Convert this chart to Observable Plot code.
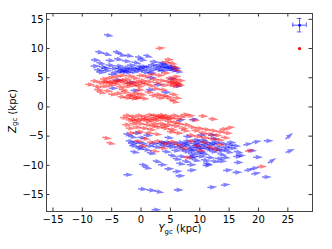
<!DOCTYPE html>
<html><head><meta charset="utf-8">
<script src="https://cdn.jsdelivr.net/npm/d3@7"></script>
<script src="https://cdn.jsdelivr.net/npm/@observablehq/plot@0.6"></script>
<style>body{margin:0;background:#fff;}</style>
</head><body><div id="chart"></div>
<script>
// each arrow: [Ygc (kpc), Zgc (kpc), direction (deg, counter-clockwise from +Y)]
const blueArrows = [
[-6.3,12.4,-10],
[-7.8,9.5,-10],[-6.5,9.2,-15],[-4.8,9.5,-10],[-4.0,9.1,-15],[-2.8,8.9,-10],[0.4,8.9,-15],[-1.0,8.6,-10],
[-8.5,8.1,-5],[-7.6,7.6,-10],[-6.0,8.0,-5],[-4.6,8.3,-10],[-3.2,7.9,-5],[-1.6,7.7,-10],[-0.6,8.1,-5],[1.5,7.8,-5],[3.0,7.6,-10],
[-8.6,7.0,0],[-8.0,6.4,-5],[-7.2,6.9,-5],[-6.6,6.2,0],[-6.0,7.2,-5],[-5.4,6.6,0],[-5.0,6.0,-5],[-4.5,7.0,0],[-4.0,6.3,-5],[-3.6,6.0,0],[-3.2,6.8,-5],[-2.8,6.3,0],[-2.4,7.2,-5],[-2.0,6.0,0],[-1.6,6.6,-5],[-1.2,6.2,0],[-0.8,7.0,-5],[-0.4,6.4,0],[0.0,6.0,-5],[0.4,6.8,0],[0.8,6.3,-5],[1.2,7.2,0],[1.6,6.6,-5],[2.0,7.0,0],[2.4,6.4,-5],[2.8,7.3,0],[3.2,6.8,-5],[3.6,7.1,0],[4.0,6.5,-5],[4.4,6.9,0],[4.8,6.3,-5],[5.2,6.6,0],[5.6,6.1,-5],[3.0,6.2,0],[-4.2,6.1,0],[-3.0,5.9,0],[1.0,5.8,0],[-6.8,6.6,0],[-7.6,6.0,-5],[-5.6,5.6,0],
[-4.4,6.6,0],[-3.4,6.4,0],[-2.2,6.6,0],[-1.0,6.6,0],[2.6,6.8,0],[3.8,6.8,0],[4.6,6.6,0],[-0.2,6.9,0],
[-4.7,4.6,0],[-1.8,2.8,0],[2.2,3.8,0],[4.5,4.8,0],[0.8,3.0,-5],[-2.5,4.2,0],[3.5,2.5,0],[5.5,3.6,0],[-5.5,3.2,0],[1.0,5.0,0],
[-3.0,-4.6,-10],[-2.2,-5.0,-10],[-1.4,-4.4,-5],[-0.6,-5.2,-5],[0.4,-4.8,-5],[6.0,-2.4,10],[8.2,-2.2,5],[4.0,-5.2,-5],[7.2,-5.0,-5],[9.6,-4.8,0],[11.4,-4.8,0],
[-2.6,-5.8,-5],[-2.0,-6.6,-5],[-1.4,-6.0,-5],[-1.0,-7.0,-10],[-0.4,-6.2,-5],[0.2,-7.2,-10],[0.8,-6.6,-5],[1.4,-6.2,-5],[2.0,-6.8,-5],[2.6,-6.2,-5],[3.2,-6.6,-5],[3.8,-6.0,-5],[4.4,-6.8,-5],[5.0,-6.2,-5],[5.6,-6.8,-5],[6.0,-6.0,-5],[6.4,-7.2,-5],[6.8,-6.4,-5],[7.2,-5.8,-5],[7.6,-6.8,-5],[8.0,-7.4,-5],[8.4,-6.2,-5],[8.8,-7.0,-5],[9.2,-6.4,-5],[9.6,-7.6,-5],[10.0,-6.8,-5],[10.4,-6.0,-5],[10.8,-7.2,-5],[11.2,-6.4,-5],[11.6,-7.6,-5],[12.0,-6.0,-5],[12.4,-6.8,-5],[12.8,-7.4,-5],[13.2,-6.2,-5],[13.8,-6.8,-5],[14.4,-6.4,-5],[14.8,-7.0,-5],[15.4,-6.6,-5],[15.8,-7.6,-10],[14.2,-7.6,-10],[13.0,-8.0,-10],[7.0,-7.6,-5],[5.2,-7.4,-5],[3.6,-7.6,-5],[9.8,-5.6,-5],[8.6,-5.6,-5],[11.8,-5.4,-5],[1.0,-7.8,-10],[-1.8,-7.6,-10],
[6.2,-6.6,-5],[7.0,-6.2,-5],[7.8,-7.2,-5],[8.6,-6.6,-5],[9.4,-7.0,-5],[10.2,-6.4,-5],[11.0,-7.0,-5],[11.6,-6.2,-5],[12.2,-7.2,-5],[9.0,-5.9,-5],[3.0,-6.0,-5],[4.2,-6.4,-5],[-2.2,-6.2,-5],[-0.8,-6.8,-5],[13.6,-7.2,-5],[14.6,-6.0,-5],[8.2,-8.4,-5],[9.0,-7.8,-5],
[4.6,-8.2,-10],[5.4,-8.8,-10],[6.2,-8.4,-5],[7.0,-9.2,-10],[7.8,-8.6,-5],[8.6,-9.0,-10],[9.4,-8.4,-5],[10.2,-9.0,-10],[11.0,-8.6,-5],[11.8,-9.2,-10],[12.6,-8.8,-5],[6.0,-9.6,-10],[10.6,-9.6,-10],[13.6,-8.6,-5],[16.2,-8.2,-5],[8.0,-8.0,-5],[10.0,-8.0,-5],
[-3.0,-11.6,0],[-0.5,-14.0,-5],[1.0,-14.2,-5],[2.3,-14.4,-10],[1.8,-17.6,0],[5.6,-14.2,0],[11.3,-13.8,5],[13.6,-13.4,5],
[-0.3,-9.8,-10],[0.3,-10.3,-10],[2.9,-9.9,0],[5.9,-11.8,0],[5.4,-11.1,5],[7.9,-10.9,5],[7.8,-9.9,0],[10.5,-10.0,0],[13.0,-9.3,0],[14.0,-10.9,5],[15.6,-11.2,0],[17.6,-10.9,10],[18.6,-10.6,10],[18.8,-11.5,10],[20.6,-12.0,0],[21.6,-9.6,30],[19.1,-8.6,0],[20.9,-5.8,0],[18.9,-6.1,10],[18.1,-7.5,0],[24.6,-5.5,40],[24.6,-7.8,20],[15.7,-8.5,0],[15.8,-9.5,0],[17.4,-6.5,10],[2.0,-9.2,-10],[4.0,-10.6,0]
];
const redArrows = [
[2.5,10.0,5],[4.0,8.2,-5],[4.6,7.6,-10],[5.0,7.0,-10],[5.3,6.4,-5],[3.6,7.8,-10],
[-9.5,3.9,-5],[-8.6,4.5,-5],[-8.2,3.6,-10],[-7.6,4.2,-5],[-7.0,4.8,0],[-7.0,3.6,-5],[-6.5,4.3,-5],[-6.0,5.0,0],[-6.0,3.8,-5],[-5.5,4.5,-5],[-5.0,5.2,0],[-5.0,4.0,-5],[-4.5,4.6,-5],[-4.2,3.5,-5],[-4.0,5.4,0],[-3.6,4.2,-5],[-3.2,4.8,-5],[-3.0,3.6,-5],[-2.6,5.3,0],[-2.4,4.3,-5],[-2.0,3.8,-5],[-1.8,5.0,-5],[-1.4,4.4,-5],[-1.0,3.6,-5],[-0.8,5.4,0],[-0.5,4.6,-5],[0.0,4.0,-5],[0.2,5.2,0],[0.6,4.4,-5],[1.0,3.7,-5],[1.2,5.6,0],[1.5,4.8,-5],[2.0,4.2,-5],[2.4,5.4,0],[2.8,4.6,-5],[3.2,3.8,-5],[3.4,5.8,0],[3.8,4.4,-5],[4.2,5.0,-5],[4.4,3.9,-5],[4.8,4.4,-5],[5.0,3.6,-5],[5.4,4.2,-5],[5.8,3.8,-5],[6.0,4.6,-5],[5.2,5.2,0],[-8.0,3.0,-5],[-6.4,2.8,-5],
[-6.8,4.4,-5],[-5.8,4.2,-5],[-4.8,4.4,-5],[-3.8,4.6,-5],[-2.8,4.0,-5],[-1.6,4.0,-5],[-0.6,4.2,-5],[4.6,4.2,-5],[5.6,4.0,-5],[5.0,4.8,-5],[-2.6,2.0,-5],[-1.4,1.6,-5],
[-7.5,2.6,-10],[-5.6,2.2,-5],[-4.6,2.4,-5],[-4.0,1.8,-5],[-3.4,2.6,-5],[-3.0,1.6,-5],[-2.4,2.1,-5],[-2.0,1.5,-5],[-1.6,2.4,-5],[-1.2,1.8,-5],[-0.6,2.2,-5],[-0.2,1.5,-5],[-3.8,3.0,-5],[-1.0,3.0,-5],[0.6,2.6,-5],[1.4,2.0,-5],[2.2,2.2,-5],[2.6,1.6,-5],[3.2,2.0,-5],[3.8,1.8,-5],[4.4,1.4,-10],[5.0,1.0,-10],[4.8,2.2,-5],[5.4,1.6,-5],[1.8,3.2,-5],[3.0,3.0,-5],
[-3.6,-1.8,-5],[-3.0,-1.4,-5],[-2.6,-2.2,-5],[-2.0,-1.6,-5],[-1.6,-2.4,-5],[-1.0,-1.4,-5],[-0.6,-2.0,-5],[0.0,-1.6,-5],[0.4,-2.4,-5],[0.8,-1.3,-5],[1.2,-1.9,-5],[1.6,-1.4,-5],[2.0,-2.2,-5],[2.4,-1.6,-5],[2.8,-1.3,-5],[3.2,-2.0,-5],[3.6,-1.5,-5],[4.0,-2.4,-5],[4.4,-1.8,-5],[5.0,-1.4,-5],[5.6,-2.0,-5],[6.2,-1.6,-5],[6.8,-1.3,0],[7.6,-1.5,0],[9.8,-1.5,-5],[11.5,-2.0,-5],[8.4,-2.2,-5],
[0.0,-2.0,-5],[1.0,-2.2,-5],[2.0,-1.8,-5],[3.0,-1.7,-5],[4.0,-1.9,-5],[-1.2,-2.2,-5],[-2.2,-2.0,-5],[1.4,-3.2,-5],[3.2,-3.2,-5],[5.0,-2.6,-5],
[-3.2,-3.0,-5],[-2.6,-3.6,-5],[-2.0,-2.8,-5],[-1.4,-3.4,-5],[-0.8,-2.8,-5],[-0.2,-3.6,-5],[0.4,-3.0,-5],[1.0,-3.8,-5],[1.6,-2.8,-5],[2.2,-3.4,-5],[2.8,-2.8,-5],[3.4,-3.6,-5],[4.0,-3.0,-5],[4.6,-3.8,-5],[5.2,-3.2,-5],[5.8,-2.8,-5],[6.4,-3.6,-5],[7.0,-3.0,-5],[4.4,-4.2,-5],[5.6,-4.4,-5],[6.8,-4.0,-5],[8.0,-3.4,-5],[-2.4,-4.4,-5],[-1.0,-4.2,-5],[0.6,-4.4,-5],[2.0,-4.6,-5],
[8.6,-4.0,-5],[9.2,-3.6,-5],[9.8,-4.4,-5],[10.4,-3.8,-5],[11.0,-4.6,-5],[11.6,-4.0,-5],[12.2,-4.8,-5],[12.8,-4.2,-5],[13.4,-3.8,0],[14.0,-4.4,-5],[13.6,-5.2,-5],[12.6,-5.6,-5],[11.4,-5.4,-5],[10.2,-5.2,-5],[9.0,-5.0,-5],[7.8,-4.8,-5],[14.4,-3.6,5],
[1.0,-6.0,-5],[2.2,-5.8,-5],[3.4,-6.2,-5],[4.6,-5.9,-5],[5.6,-6.4,-5],[7.8,-5.8,-5],[8.8,-6.6,-5],[10.0,-6.0,-5],[11.0,-6.8,-5],[12.0,-7.2,-5],[9.4,-7.4,-5],[6.6,-7.0,-5],[12.8,-6.4,-5],[-1.2,-5.8,-5],[1.6,-7.5,-5],[0.0,-5.4,-5],[3.0,-7.0,-5],[-0.4,-6.6,-5],
[-6.6,-5.2,-10],[-5.9,-6.1,-10],
[17.7,-7.6,10],[19.8,-10.2,0],[7.2,-8.6,-5]
];
// typical uncertainty marker (blue) and reference point (red)
const errPoint = [{x: 27, y: 14, xerr: 1.15, yerr: 1.15}];
const refPoint = [{x: 27, y: 10}];
const xTicks = [-15, -10, -5, 0, 5, 10, 15, 20, 25];
const yTicks = [-15, -10, -5, 0, 5, 10, 15];

const W = 332, H = 249, mL = 46, mR = 20, mT = 13, mB = 38;
const pw = W - mL - mR, ph = H - mT - mB;

const quiverShape = {
  draw(context, l, r) {
    const w = r, h = w / 2, hw = 1.5 * w, hl = 5 * w, ha = 4.5 * w;
    context.moveTo(-h, 0);
    context.lineTo(-h, -(l - ha));
    context.lineTo(-hw, -(l - hl));
    context.lineTo(0, -l);
    context.lineTo(hw, -(l - hl));
    context.lineTo(h, -(l - ha));
    context.lineTo(h, 0);
    context.closePath();
  }
};

function arrows(data, color) {
  return Plot.vector(data, {
    x: d => d[0], y: d => d[1], rotate: d => 90 - d[2],
    length: 10, r: 1.55, anchor: "start", shape: quiverShape,
    fill: color, fillOpacity: 0.5, stroke: "none"
  });
}

const tick = 3.5, cap = 0.38;
const chart = Plot.plot({
  width: W, height: H,
  marginLeft: mL, marginRight: mR, marginTop: mT, marginBottom: mB,
  style: {fontFamily: "DejaVu Sans", fontSize: "10px", color: "black", background: "white"},
  x: {domain: [-16.1, 29.2], label: null},
  y: {domain: [-17.9, 16], label: null},
  marks: [
    arrows(blueArrows, "#0000ff"),
    arrows(redArrows, "#ff0000"),
    Plot.ruleY(errPoint, {y: "y", x1: d => d.x - d.xerr, x2: d => d.x + d.xerr, stroke: "#0000ff", strokeOpacity: 0.65, strokeWidth: 1}),
    Plot.ruleX(errPoint, {x: "x", y1: d => d.y - d.yerr, y2: d => d.y + d.yerr, stroke: "#0000ff", strokeOpacity: 0.65, strokeWidth: 1}),
    Plot.ruleX(errPoint.flatMap(d => [d.x - d.xerr, d.x + d.xerr].map(x => ({x, y: d.y}))), {x: "x", y1: d => d.y - cap, y2: d => d.y + cap, stroke: "#0000ff", strokeOpacity: 0.65}),
    Plot.ruleY(errPoint.flatMap(d => [d.y - d.yerr, d.y + d.yerr].map(y => ({x: d.x, y}))), {y: "y", x1: d => d.x - cap, x2: d => d.x + cap, stroke: "#0000ff", strokeOpacity: 0.65}),
    Plot.dot(errPoint, {x: "x", y: "y", r: 1.5, fill: "#0000ff", fillOpacity: 0.8}),
    Plot.dot(refPoint, {x: "x", y: "y", r: 1.6, fill: "#ff0000"}),
    Plot.tickX(xTicks, {x: d => d, insetTop: ph - tick, stroke: "#333"}),
    Plot.tickX(xTicks, {x: d => d, insetBottom: ph - tick, stroke: "#333"}),
    Plot.tickY(yTicks, {y: d => d, insetRight: pw - tick, stroke: "#333"}),
    Plot.tickY(yTicks, {y: d => d, insetLeft: pw - tick, stroke: "#333"}),
    Plot.axisX(xTicks, {tickSize: 0, tickPadding: 4, fontSize: 10, label: null}),
    Plot.axisY(yTicks, {tickSize: 0, tickPadding: 3, fontSize: 10, label: null}),
    Plot.frame({stroke: "#444"})
  ]
});
document.getElementById("chart").appendChild(chart);

const svg = d3.select(chart);
const xl = svg.append("text").attr("x", 180).attr("y", 232).attr("text-anchor", "middle")
  .attr("font-family", "DejaVu Sans").attr("font-size", 10).attr("fill", "black");
xl.append("tspan").attr("font-style", "italic").text("Y");
xl.append("tspan").attr("font-size", 7).attr("dy", 1.8).text("gc");
xl.append("tspan").attr("dy", -1.8).text(" (kpc)");
const yl = svg.append("text").attr("transform", "translate(15.6,111) rotate(-90)").attr("text-anchor", "middle")
  .attr("font-family", "DejaVu Sans").attr("font-size", 10).attr("fill", "black");
yl.append("tspan").attr("font-style", "italic").text("Z");
yl.append("tspan").attr("font-size", 7).attr("dy", 1.8).text("gc");
yl.append("tspan").attr("dy", -1.8).text(" (kpc)");
</script>
</body></html>
